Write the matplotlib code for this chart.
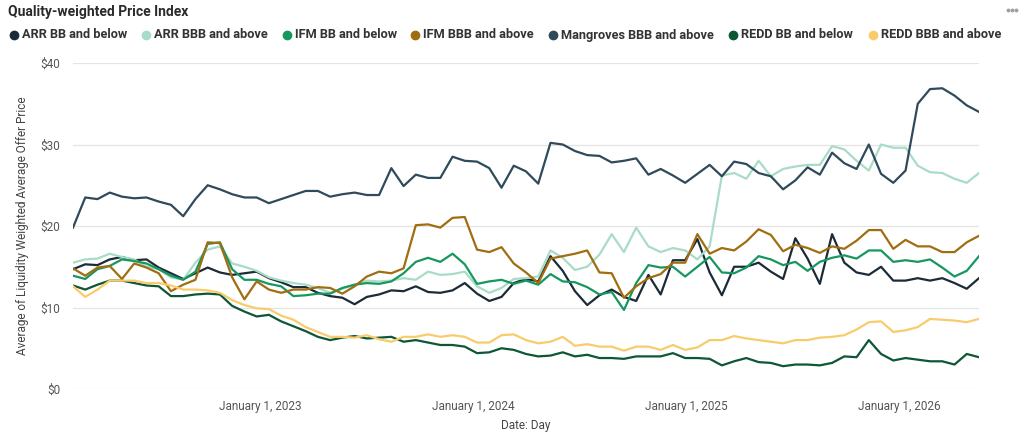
import numpy as np
import pandas as pd
import matplotlib
matplotlib.use("Agg")
import matplotlib.pyplot as plt
from matplotlib.lines import Line2D

plt.rcParams['font.family'] = ['Roboto', 'DejaVu Sans']

dates = pd.date_range('2022-02-14', periods=75, freq='21D')

arr_bb = [14.7, 15.3, 15.2, 15.9, 16.2, 15.8, 15.9, 14.9, 14.2, 13.5,
          14.2, 14.9, 14.3, 14.0, 14.2, 14.4, 13.6, 13.1, 12.5, 12.5,
          11.8, 11.4, 11.2, 10.4, 11.3, 11.6, 12.1, 12.0, 12.6, 11.9,
          11.8, 12.1, 13.0, 11.7, 10.8, 11.3, 13.0, 13.5, 13.2, 16.3,
          14.5, 12.0, 10.3, 11.5, 12.2, 11.3, 10.8, 14.0, 11.6, 15.8,
          15.8, 18.4, 14.3, 11.5, 15.0, 15.0, 15.5, 14.4, 13.5, 18.5,
          16.0, 12.9, 19.0, 15.5, 14.3, 14.0, 15.0, 13.3, 13.3, 13.6,
          13.3, 13.6, 13.0, 12.3, 13.6]

arr_bbb = [15.5, 15.9, 16.0, 16.6, 16.2, 15.9, 15.0, 14.7, 13.7, 13.4,
           15.5, 17.1, 17.5, 15.4, 15.0, 14.5, 13.7, 13.3, 13.0, 12.8,
           12.4, 11.8, 12.3, 12.8, 13.3, 13.2, 13.3, 13.6, 13.4, 14.4,
           14.0, 14.1, 14.4, 12.6, 11.8, 12.4, 13.5, 13.6, 13.8, 17.0,
           16.1, 14.6, 15.0, 16.5, 19.0, 16.8, 19.8, 17.5, 16.8, 17.3,
           17.0, 15.9, 17.5, 26.2, 26.5, 25.8, 28.0, 26.1, 27.0, 27.3,
           27.5, 27.5, 29.8, 29.4, 28.0, 26.8, 30.0, 29.6, 29.6, 27.4,
           26.6, 26.5, 25.8, 25.3, 26.5]

ifm_bb = [13.9, 13.5, 14.7, 15.1, 15.9, 15.7, 15.4, 14.7, 13.9, 13.4,
          14.4, 17.8, 18.0, 14.7, 13.4, 13.4, 12.9, 12.6, 11.4, 11.5,
          11.7, 11.7, 12.4, 12.8, 13.0, 12.9, 13.2, 14.2, 15.6, 16.1,
          15.6, 16.6, 15.3, 12.9, 13.2, 13.4, 12.9, 13.3, 12.8, 14.1,
          13.2, 13.1, 12.5, 11.6, 11.9, 9.7, 13.0, 15.2, 14.9, 15.0,
          13.8, 15.0, 16.2, 14.3, 14.2, 14.9, 16.3, 15.9, 15.2, 15.6,
          14.5, 15.6, 16.1, 16.4, 16.0, 17.0, 17.0, 15.6, 15.8, 15.6,
          15.9, 14.9, 13.8, 14.5, 16.3]

ifm_bbb = [14.8, 13.9, 14.9, 15.1, 13.5, 15.4, 14.9, 14.2, 12.0, 12.8,
           13.4, 18.0, 17.9, 13.7, 11.0, 13.2, 12.2, 11.8, 12.2, 12.2,
           12.5, 12.4, 11.7, 12.6, 13.8, 14.4, 14.2, 14.8, 20.1, 20.2,
           19.8, 21.0, 21.1, 17.1, 16.8, 17.4, 15.4, 14.3, 13.0, 16.0,
           16.3, 16.6, 17.0, 14.3, 14.2, 11.2, 12.6, 13.6, 14.1, 15.5,
           15.5, 19.0, 16.6, 17.3, 17.0, 18.1, 19.6, 18.9, 16.9, 17.7,
           17.3, 16.7, 17.5, 17.2, 18.2, 19.5, 19.5, 17.2, 18.3, 17.5,
           17.5, 16.8, 16.8, 18.0, 18.8]

mangroves_bbb = [19.8, 23.5, 23.3, 24.1, 23.6, 23.4, 23.5, 23.0, 22.6, 21.2,
                 23.3, 25.0, 24.5, 23.9, 23.5, 23.5, 22.8, 23.3, 23.8, 24.3,
                 24.3, 23.6, 23.9, 24.1, 23.8, 23.8, 27.1, 24.9, 26.3, 25.9,
                 25.9, 28.5, 28.0, 27.9, 27.1, 24.7, 27.4, 26.7, 25.2, 30.2,
                 30.0, 29.2, 28.7, 28.6, 27.8, 28.0, 28.3, 26.3, 27.0, 26.2,
                 25.3, 26.4, 27.5, 26.1, 27.9, 27.6, 26.5, 26.1, 24.5, 25.6,
                 27.2, 26.3, 29.0, 27.7, 27.0, 30.0, 26.4, 25.3, 26.8, 35.0,
                 36.8, 36.9, 36.0, 34.8, 34.0]

redd_bb = [12.7, 12.2, 12.8, 13.3, 13.3, 13.0, 12.7, 12.6, 11.4, 11.4,
           11.6, 11.7, 11.6, 10.2, 9.5, 8.9, 9.1, 8.3, 7.7, 7.1,
           6.4, 6.0, 6.3, 6.5, 6.2, 6.3, 6.4, 5.8, 6.0, 5.7,
           5.4, 5.4, 5.2, 4.4, 4.5, 5.0, 4.8, 4.3, 4.0, 4.1,
           4.5, 4.0, 4.2, 3.8, 3.8, 3.7, 4.0, 4.0, 4.0, 4.4,
           3.8, 3.8, 3.7, 2.9, 3.4, 3.8, 3.3, 3.2, 2.8, 3.0,
           3.0, 2.9, 3.2, 4.0, 3.9, 6.0, 4.3, 3.5, 3.8, 3.6,
           3.4, 3.4, 3.0, 4.3, 3.9]

redd_bbb = [12.6, 11.3, 12.2, 13.3, 13.3, 13.3, 13.0, 13.0, 12.7, 12.2,
            12.2, 12.1, 11.8, 10.9, 10.3, 9.9, 9.8, 9.0, 8.5, 7.6,
            7.0, 6.4, 6.4, 6.3, 6.6, 6.1, 5.8, 6.4, 6.4, 6.7,
            6.4, 6.6, 6.4, 5.7, 5.7, 6.6, 6.7, 6.0, 5.6, 5.8,
            6.4, 5.3, 5.5, 5.2, 5.2, 4.7, 5.2, 5.2, 4.8, 5.4,
            4.8, 5.1, 6.0, 6.0, 6.5, 6.2, 6.0, 5.8, 5.6, 6.0,
            6.0, 6.3, 6.4, 6.6, 7.3, 8.2, 8.3, 7.0, 7.2, 7.6,
            8.6, 8.5, 8.4, 8.2, 8.6]

names = ['ARR BB and below', 'ARR BBB and above', 'IFM BB and below',
         'IFM BBB and above', 'Mangroves BBB and above', 'REDD BB and below',
         'REDD BBB and above']
series = [arr_bb, arr_bbb, ifm_bb, ifm_bbb, mangroves_bbb, redd_bb, redd_bbb]
colors = ['#1c2b38', '#a9dcc7', '#17975f', '#a06d10', '#2f4a5b', '#0d5636', '#f8cc6c']

tick_dates = pd.to_datetime(['2023-01-01', '2024-01-01', '2025-01-01', '2026-01-01'])
tick_labels = ['January 1, 2023', 'January 1, 2024', 'January 1, 2025', 'January 1, 2026']

fig = plt.figure(figsize=(10.24, 4.42), dpi=100)
ax = fig.add_axes([73 / 1024, 1 - 389 / 442, 906 / 1024, 326 / 442])

for vals, c in zip(series, colors):
    ax.plot(dates, vals, color=c, lw=1.6, solid_joinstyle='round')

ax.set_xlim(dates[0], dates[-1])
ax.set_ylim(0, 40)
ax.set_yticks([0, 10, 20, 30, 40])
ax.set_yticklabels(['$0', '$10', '$20', '$30', '$40'])
ax.set_xticks(tick_dates)
ax.set_xticklabels(tick_labels)
ax.tick_params(axis='both', length=0, labelsize=8.5, labelcolor='#555555')
ax.tick_params(axis='y', pad=9)
ax.tick_params(axis='x', pad=8)
ax.grid(axis='y', color='#e4e4e4', lw=0.9)
ax.set_axisbelow(True)
for s in ax.spines.values():
    s.set_visible(False)

fig.text(23 / 1024, 1 - 226 / 442, 'Average of Liquidity Weighted Average Offer Price',
         rotation=90, ha='center', va='center', fontsize=8.5, color='#444444')
fig.text(526 / 1024, 1 - 425 / 442, 'Date: Day', ha='center', va='center',
         fontsize=8.5, color='#444444')

# title, menu dots and legend row
fig.text(8 / 1024, 1 - 12 / 442, 'Quality-weighted Price Index', ha='left', va='center',
         fontsize=10, fontweight='bold', color='#2b2b2b')
for dx in (-4, 0, 4):
    fig.add_artist(Line2D([(1012 + dx) / 1024], [1 - 10 / 442], marker='o', ms=1.8,
                          color='#a0a0a0', lw=0, transform=fig.transFigure))

dot_x = [14, 146, 287, 415, 553, 733, 873]
ly = 1 - 35 / 442
for x, name, c in zip(dot_x, names, colors):
    fig.add_artist(Line2D([x / 1024], [ly], marker='o', ms=6, color=c, lw=0,
                          transform=fig.transFigure))
    fig.text((x + 8) / 1024, ly, name, ha='left', va='center', fontsize=9.2,
             fontweight='bold', color='#333333')

fig.savefig('out.png', dpi=100)
